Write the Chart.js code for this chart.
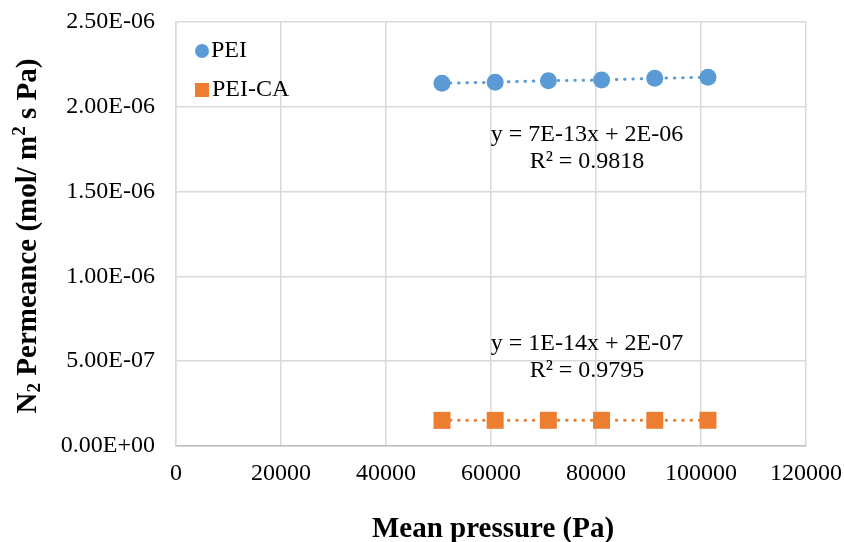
<!DOCTYPE html>
<html>
<head>
<meta charset="utf-8">
<script src="https://cdn.jsdelivr.net/npm/chart.js@4"></script>
<style>
  html, body { margin: 0; padding: 0; background: #ffffff; }
</style>
</head>
<body>
<canvas id="permChart" width="844" height="542"></canvas>
<script>
// Mean pressure (Pa) and N2 permeance (mol/ m2 s Pa)
const pressure = [50662.5, 60795, 70927.5, 81060, 91192.5, 101325];
const peiPermeance = [2.139e-6, 2.145e-6, 2.154e-6, 2.158e-6, 2.168e-6, 2.174e-6];
const peiCaPermeance = [1.512e-7, 1.513e-7, 1.514e-7, 1.515e-7, 1.516e-7, 1.517e-7];

const seriesNames = ['PEI', 'PEI-CA'];
const xTickLabels = ['0', '20000', '40000', '60000', '80000', '100000', '120000'];
const yTickLabels = ['0.00E+00', '5.00E-07', '1.00E-06', '1.50E-06', '2.00E-06', '2.50E-06'];
const trendLabels = [
    ['y = 7E-13x + 2E-06', 'R\u00B2 = 0.9818'],
    ['y = 1E-14x + 2E-07', 'R\u00B2 = 0.9795']
];

const blue = '#5b9bd5';
const orange = '#ed7d31';
const serif = '"Liberation Serif", "Times New Roman", serif';

function toPoints(xs, ys) {
    return xs.map((x, i) => ({ x: x, y: ys[i] }));
}

// legend, trendline equations and axis titles drawn on top
const overlay = {
    id: 'overlay',
    afterDraw(chart) {
        const ctx = chart.ctx;
        const a = chart.chartArea;
        ctx.save();
        ctx.fillStyle = '#000';

        // legend inside the plot, top left
        ctx.font = '24px ' + serif;
        ctx.textBaseline = 'middle';
        ctx.textAlign = 'left';
        ctx.fillStyle = blue;
        ctx.beginPath();
        ctx.arc(a.left + 26, 51, 7, 0, Math.PI * 2);
        ctx.fill();
        ctx.fillStyle = '#000';
        ctx.fillText(seriesNames[0], a.left + 35, 51);
        ctx.fillStyle = orange;
        ctx.fillRect(a.left + 19, 83, 14, 14);
        ctx.fillStyle = '#000';
        ctx.fillText(seriesNames[1], a.left + 36, 90);

        // trendline equations
        ctx.font = '24px ' + serif;
        ctx.textAlign = 'center';
        ctx.textBaseline = 'alphabetic';
        ctx.fillText(trendLabels[0][0], 587, 141);
        ctx.fillText(trendLabels[0][1], 587, 168);
        ctx.fillText(trendLabels[1][0], 587, 350);
        ctx.fillText(trendLabels[1][1], 587, 377);

        // x axis title
        ctx.font = 'bold 29px ' + serif;
        ctx.fillText('Mean pressure (Pa)', 493, 537);

        // y axis title with sub/superscripts
        const big = 'bold 29px ' + serif;
        const small = 'bold 19px ' + serif;
        const parts = [
            { t: 'N', f: big, dy: 0 },
            { t: '2', f: small, dy: 4 },
            { t: ' Permeance (mol/ m', f: big, dy: 0 },
            { t: '2', f: small, dy: -11 },
            { t: ' s Pa)', f: big, dy: 0 }
        ];
        let total = 0;
        parts.forEach(p => { ctx.font = p.f; p.w = ctx.measureText(p.t).width; total += p.w; });
        ctx.translate(0, 236);
        ctx.rotate(-Math.PI / 2);
        ctx.textAlign = 'left';
        let u = -total / 2;
        parts.forEach(p => {
            ctx.font = p.f;
            ctx.fillText(p.t, u, 36 + p.dy);
            u += p.w;
        });
        ctx.restore();
    }
};

const ctx = document.getElementById('permChart').getContext('2d');
new Chart(ctx, {
    type: 'scatter',
    data: {
        datasets: [{
            label: seriesNames[0],
            data: toPoints(pressure, peiPermeance),
            showLine: true,
            borderColor: blue,
            borderWidth: 3,
            borderDash: [0.5, 7.8],
            borderCapStyle: 'round',
            backgroundColor: blue,
            pointStyle: 'circle',
            pointRadius: 8.5,
            pointBorderWidth: 0,
            pointHoverRadius: 8.5
        }, {
            label: seriesNames[1],
            data: toPoints(pressure, peiCaPermeance),
            showLine: true,
            borderColor: orange,
            borderWidth: 3,
            borderDash: [0.5, 7.8],
            borderCapStyle: 'round',
            backgroundColor: orange,
            pointStyle: 'rect',
            pointRadius: 12,
            pointBorderWidth: 0,
            pointHoverRadius: 12
        }]
    },
    options: {
        responsive: false,
        animation: false,
        devicePixelRatio: 1,
        layout: {
            padding: { top: 22, right: 38, bottom: 0, left: 0 }
        },
        plugins: {
            legend: { display: false },
            tooltip: { enabled: false }
        },
        scales: {
            x: {
                type: 'linear',
                min: 0,
                max: 120000,
                afterFit: scale => {
                    scale.height = 96;
                    scale.paddingLeft = 0;
                    scale.paddingRight = 0;
                },
                grid: { color: '#d9d9d9', lineWidth: 1.5, drawTicks: false },
                border: { color: '#bfbfbf', width: 1.5 },
                ticks: {
                    stepSize: 20000,
                    padding: 13,
                    color: '#000',
                    font: { family: serif, size: 24 },
                    maxRotation: 0,
                    callback: (value, index) => xTickLabels[index]
                }
            },
            y: {
                type: 'linear',
                min: 0,
                max: 2.5e-6,
                afterFit: scale => {
                    scale.width = 176;
                    scale.paddingTop = 0;
                    scale.paddingBottom = 0;
                },
                grid: { color: '#d9d9d9', lineWidth: 1.5, drawTicks: false },
                border: { color: '#d9d9d9', width: 1.5 },
                ticks: {
                    stepSize: 5e-7,
                    padding: 21,
                    color: '#000',
                    font: { family: serif, size: 24 },
                    callback: (value, index) => yTickLabels[index]
                }
            }
        }
    },
    plugins: [overlay]
});
</script>
</body>
</html>
